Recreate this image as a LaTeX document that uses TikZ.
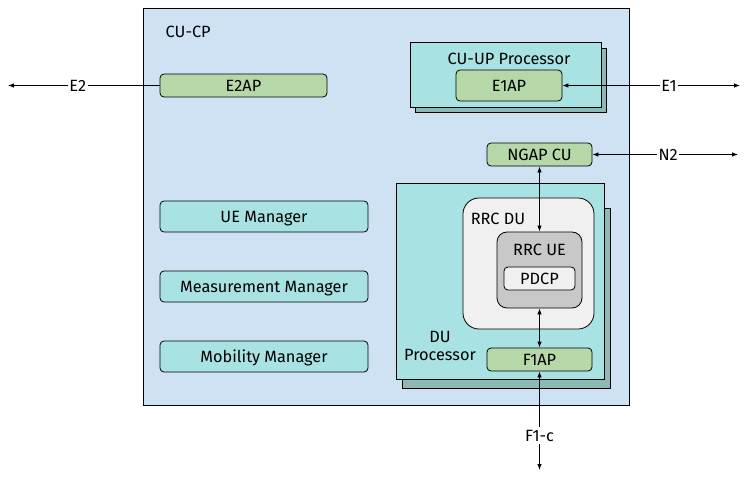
\documentclass[tikz,border=0pt]{standalone}
\usepackage{fontspec}
\setmainfont{Fira Sans}
\usetikzlibrary{arrows.meta}
\definecolor{cpblue}{HTML}{CFE2F3}
\definecolor{procteal}{HTML}{A8E2E2}
\definecolor{shadeteal}{HTML}{8CB8B6}
\definecolor{apgreen}{HTML}{B6D7A8}
\definecolor{uegray}{HTML}{C8C8C8}
\definecolor{dulight}{HTML}{F0F0F0}
\tikzset{
  tip/.style={-{Latex[length=6pt,width=4.5pt]}},
  both/.style={{Latex[length=6pt,width=4.5pt]}-{Latex[length=6pt,width=4.5pt]}},
  apbox/.style={draw=black, fill=apgreen, rounded corners=4pt, line width=0.8pt, inner sep=0pt},
  mgrbox/.style={draw=black, fill=procteal, rounded corners=4pt, line width=0.8pt, inner sep=0pt,
    minimum width=208pt, minimum height=31pt},
  lbl/.style={fill=white, inner sep=1.5pt}
}
\begin{document}
\begin{tikzpicture}[x=1pt,y=-1pt,font=\fontsize{16.3}{19}\selectfont,line width=0.8pt,
  every node/.append style={text height=13.5pt, text depth=1.3pt}]
\useasboundingbox (0,0) rectangle (744,479);
\filldraw[draw=black, fill=cpblue] (143,8) rectangle (629,405);
\node[anchor=west] (cucp) at (162,31) {CU-CP};

\filldraw[draw=black, fill=shadeteal] (415,48) rectangle (606,112);
\filldraw[draw=black, fill=procteal] (410,42) rectangle (601,107);
\node (cuup) at (509,58) {CU-UP Processor};
\node[apbox, minimum width=106pt, minimum height=31pt] (e1ap) at (509,85.5) {E1AP};

\node[apbox, minimum width=167pt, minimum height=23pt] (e2ap) at (243.5,85.5) {E2AP};
\node[apbox, minimum width=105pt, minimum height=23pt] (ngap) at (539.5,154.5) {NGAP CU};

\node[mgrbox] (uemgr) at (264,216.5) {UE Manager};
\node[mgrbox] (measmgr) at (264,286.5) {Measurement Manager};
\node[mgrbox] (mobmgr) at (264,356.5) {Mobility Manager};

\filldraw[draw=black, fill=shadeteal] (402,208) rectangle (610,388);
\filldraw[draw=black, fill=procteal] (396,183) rectangle (604,379);
\node[align=center, text height=, text depth=] (duproc) at (440,346) {DU\\[-1pt]Processor};
\filldraw[draw=black, fill=dulight, rounded corners=16pt] (463,198) rectangle (594,329);
\node (rrcdu) at (498,218) {RRC DU};
\node[draw=black, fill=uegray, rounded corners=10pt, minimum width=85pt, minimum height=76pt, text height=, text depth=] (rrcue) at (539.5,270) {};
\node (rrcuelbl) at (539.5,249) {RRC UE};
\node[draw=black, fill=dulight, rounded corners=4pt, inner sep=0pt, minimum width=71pt, minimum height=23pt] (pdcp) at (539.5,278.5) {PDCP};
\node[apbox, minimum width=105pt, minimum height=23pt] (f1ap) at (539.5,359.5) {F1AP};

\coordinate (e2end) at (8,85.5);
\coordinate (e1end) at (740,85.5);
\coordinate (n2end) at (738,154.5);
\coordinate (f1end) at (539.5,470);
\draw[tip] (e2ap.west) -- node[lbl, pos=0.54] (e2) {E2} (e2end);
\draw[both] (e1ap.east) -- node[lbl, pos=0.6] (e1) {E1} (e1end);
\draw[both] (ngap.east) -- node[lbl, pos=0.52] (n2) {N2} (n2end);
\draw[both] (ngap.south) -- (rrcue.north);
\draw[both] (rrcue.south) -- (f1ap.north);
\draw[both] (f1ap.south) -- node[lbl, pos=0.65] (f1c) {F1-c} (f1end);
\end{tikzpicture}
\end{document}
